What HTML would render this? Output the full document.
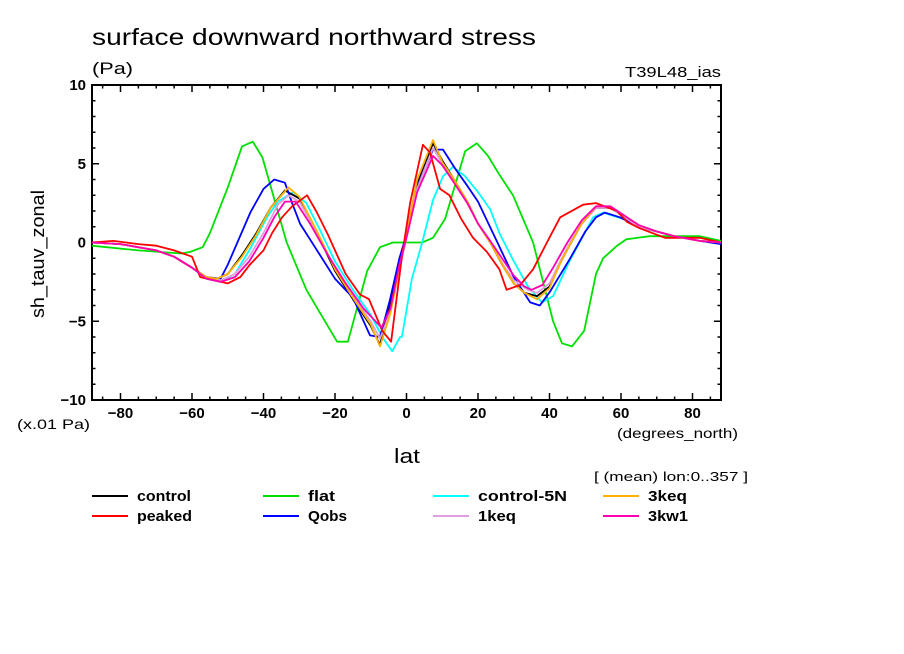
<!DOCTYPE html>
<html><head><meta charset="utf-8"><style>
body{margin:0;background:#fff;}
svg{display:block;font-family:"Liberation Sans",sans-serif;}
</style></head><body>
<svg id="chart" width="904" height="654" viewBox="0 0 904 654">
<rect width="904" height="654" fill="#fff"/>
<text x="92" y="45" font-size="23" textLength="444" lengthAdjust="spacingAndGlyphs">surface downward northward stress</text>
<text x="92" y="74" font-size="17" textLength="41" lengthAdjust="spacingAndGlyphs">(Pa)</text>
<text x="625" y="77" font-size="15" textLength="96" lengthAdjust="spacingAndGlyphs">T39L48_ias</text>
<text x="17" y="429" font-size="14" textLength="73" lengthAdjust="spacingAndGlyphs">(x.01 Pa)</text>
<text x="617" y="438" font-size="14" textLength="121" lengthAdjust="spacingAndGlyphs">(degrees_north)</text>
<text x="394" y="463" font-size="20" textLength="26" lengthAdjust="spacingAndGlyphs">lat</text>
<text transform="translate(44,318) rotate(-90)" font-size="18" textLength="128" lengthAdjust="spacingAndGlyphs">sh_tauv_zonal</text>
<text x="594" y="481" font-size="13" textLength="154" lengthAdjust="spacingAndGlyphs">[ (mean) lon:0..357 ]</text>
<g id="axes"></g>
<g id="series"></g>
<g id="legend"></g>
</svg>
<script>
const xTicks=[-80,-60,-40,-20,0,20,40,60,80];
const yTicks=[-10,-5,0,5,10];
const seriesNames=["control","peaked","flat","Qobs","control-5N","1keq","3keq","3kw1"];
const seriesColors=["#000000","#ff0000","#00e000","#0000ff","#00ffff","#e0a0e0","#ffb000","#ff00b0"];
const latControl=[-88,-80,-75,-70,-65,-60,-56,-53,-50,-46,-42,-38,-34,-30,-25,-20,-15,-10,-7.4,-4.5,-2,0,3,7.4,10,13,17,20,23.4,27,30,33,36.5,40,43,45.8,49,53,57,61,65,70,75,82,88];
const valControl=[0,-0.1,-0.3,-0.5,-0.9,-1.6,-2.2,-2.3,-2.0,-0.8,0.6,2.2,3.3,2.8,0.6,-1.8,-3.6,-5.3,-6.5,-3.8,-1.2,0.6,3.8,6.3,5.2,4.1,2.6,1.2,0,-1.5,-2.6,-3.2,-3.4,-2.8,-1.3,-0.1,1.2,2.2,2.2,1.6,1.0,0.7,0.4,0.1,0];
const latPeaked=[-88,-82,-75,-70,-65,-60,-57.7,-50,-46.5,-43.8,-40,-37.6,-34.8,-32,-27.8,-25.3,-22,-20,-17,-13,-10.5,-6.8,-4.3,-1.3,1,4.6,6.6,9.4,12,15.3,18.6,22.5,26,28,31.8,35.4,40.2,43,49.4,53,58.9,61.7,65.3,72.3,82,88];
const valPeaked=[0,0.1,-0.1,-0.2,-0.5,-0.9,-2.2,-2.6,-2.2,-1.4,-0.5,0.6,1.6,2.3,3.0,2.0,0.5,-0.5,-2.0,-3.3,-3.6,-5.6,-6.3,-0.9,2.5,6.2,5.7,3.4,3.0,1.5,0.3,-0.6,-1.7,-3.0,-2.7,-1.7,0.4,1.6,2.4,2.5,2.0,1.3,0.9,0.3,0.3,0];
const latFlat=[-88,-75,-63,-60.5,-57,-55,-50,-46,-43,-40.3,-33.5,-28,-22.8,-19.4,-16.4,-11,-7.4,-3.8,0,4.4,7.4,10.8,16.4,19.7,22.8,26,29.8,35.4,41,43.5,46.3,49.7,53,55,58.9,61.5,68,82,88];
const valFlat=[-0.2,-0.5,-0.7,-0.6,-0.3,0.6,3.5,6.1,6.4,5.4,0,-3.0,-5.0,-6.3,-6.3,-1.8,-0.3,0,0,0,0.3,1.5,5.8,6.3,5.5,4.3,3.0,0,-5.0,-6.4,-6.6,-5.6,-2.0,-1.0,-0.2,0.2,0.4,0.4,0.1];
const latQobs=[-88,-80,-75,-70,-65,-60,-56,-52,-50,-43.7,-40,-37,-34,-32,-29.8,-25.6,-20,-15,-10.2,-7.4,-4.6,-2,0,3,7.4,10.2,13.6,17,20,25,30,34.6,37.3,40.2,45.8,50,53,55.5,59.7,65,70,75,82,88];
const valQobs=[0,-0.1,-0.3,-0.5,-0.9,-1.6,-2.2,-2.3,-1.4,1.9,3.4,4.0,3.8,2.5,1.2,-0.3,-2.3,-3.5,-5.9,-6.0,-3.6,-1.0,0.5,3.5,5.9,5.9,4.7,3.6,2.6,0.2,-2.2,-3.8,-4.0,-3.1,-1.0,0.7,1.6,1.9,1.6,1.0,0.7,0.4,0.1,-0.1];
const latCtl5N=[-88,-80,-75,-70,-65,-60,-56,-52,-48,-44,-39,-36,-31.7,-28,-24,-20,-15,-10,-6.8,-4,-1.8,-1.3,1.5,4.4,7.4,10.2,13,16.4,20,23.4,26,29.8,34,37.9,41,45.8,52.2,55,60.6,65,70,75,82,88];
const valCtl5N=[0,-0.1,-0.3,-0.5,-0.9,-1.6,-2.3,-2.5,-2.0,-0.5,1.6,2.6,3.2,2.5,0.7,-1.2,-3.0,-4.6,-6.0,-6.9,-6.0,-6.0,-2.3,0,2.7,4.2,4.8,4.2,3.2,2.1,0.6,-1.1,-2.8,-3.8,-3.4,-1.1,1.6,1.9,1.5,1.0,0.7,0.4,0.1,0];
const lat1keq=[-88,-80,-75,-70,-65,-60,-56,-52,-48,-44,-40,-36,-33,-30,-25,-20,-15,-10,-7.4,-4.5,-2,0,3,7.4,10,13,17,20,23.4,27,30,34,36.5,40,43,45.8,49,53,57,61,65,70,75,82,88];
const val1keq=[0,-0.1,-0.3,-0.5,-0.9,-1.6,-2.2,-2.4,-2.0,-0.9,0.6,2.4,3.0,2.6,0.6,-1.6,-3.4,-5.0,-6.1,-4.4,-1.8,0.3,3.4,6.0,5.0,4.0,2.5,1.2,0,-1.4,-2.4,-3.0,-3.2,-2.6,-1.2,0,1.2,2.2,2.2,1.6,1.0,0.7,0.4,0.1,0];
const lat3keq=[-88,-80,-75,-70,-65,-60,-56,-53,-50,-46,-42,-38,-33,-30,-25,-20,-15,-10,-7.4,-4.5,-2,0,3,7.4,10,13,17,20,23.4,27,30,33,36.5,40,43,45.8,49,53,57,61,65,70,75,82,88];
const val3keq=[0,-0.1,-0.3,-0.5,-0.9,-1.6,-2.2,-2.3,-2.0,-0.9,0.5,2.2,3.5,2.9,0.7,-1.7,-3.5,-5.2,-6.6,-4.5,-1.6,0.6,4.0,6.5,5.1,4.1,2.6,1.2,0,-1.5,-2.6,-3.2,-3.6,-2.9,-1.3,-0.1,1.2,2.3,2.3,1.7,1.1,0.7,0.4,0.1,0];
const lat3kw1=[-88,-80,-75,-70,-65,-60,-56,-52,-48,-44,-40,-37,-34,-31,-27,-22,-17,-12,-7,-4.5,-2,0,3,7.4,10,13,17,20,23.4,27,30,33,35,38,41,45,49,53,57,61,65,70,75,82,88];
const val3kw1=[0,-0.1,-0.3,-0.5,-0.9,-1.6,-2.3,-2.5,-2.2,-1.2,0.3,1.6,2.6,2.6,1.2,-0.8,-2.6,-4.2,-5.4,-4.2,-1.4,0.3,3.2,5.5,4.9,3.9,2.5,1.2,0.1,-1.1,-2.1,-2.8,-3.0,-2.7,-1.6,0,1.4,2.3,2.3,1.7,1.1,0.7,0.4,0.1,0];

const NS="http://www.w3.org/2000/svg";
const X0=92,X1=721,Y0=400,Y1=85;
const legendTextWidths=[54,55,27,39,89,38,39,40];
function xs(v){return 406.5+v*3.575;}
function ys(v){return 242.5-v*(Y0-Y1)/20;}
function mk(tag,attrs,parent){const e=document.createElementNS(NS,tag);for(const k in attrs)e.setAttribute(k,attrs[k]);parent.appendChild(e);return e;}
const axes=document.getElementById('axes');
const frame=mk('rect',{x:X0,y:Y1,width:X1-X0,height:Y0-Y1,fill:'none',stroke:'#000','stroke-width':2},axes);


for(let v=-85;v<=85;v+=5){
  const major=(v%20===0);const L=major?7:3.5;
  const t1=mk('line',{x1:xs(v),x2:xs(v),y1:Y0,y2:Y0-L,stroke:'#000','stroke-width':1.5},axes);
  
  
  const t2=mk('line',{x1:xs(v),x2:xs(v),y1:Y1,y2:Y1+L,stroke:'#000','stroke-width':1.5},axes);
  
  
}
for(let v=-9;v<=9;v++){
  const major=(v%5===0);const L=major?7:3.5;
  const t1=mk('line',{x1:X0,x2:X0+L,y1:ys(v),y2:ys(v),stroke:'#000','stroke-width':1.5},axes);
  
  
  const t2=mk('line',{x1:X1,x2:X1-L,y1:ys(v),y2:ys(v),stroke:'#000','stroke-width':1.5},axes);
  
  
}
xTicks.forEach(v=>{
  const t=mk('text',{x:xs(v),y:418,'font-size':15,'text-anchor':'middle','font-weight':'bold'},axes);
  t.textContent=(v<0?'\u2212'+(-v):String(v));
  
  
});
yTicks.forEach(v=>{
  const t=mk('text',{x:86,y:ys(v)+5,'font-size':15,'text-anchor':'end','font-weight':'bold'},axes);
  t.textContent=(v<0?'\u2212'+(-v):String(v));
  
  
});
const lats=[latControl,latPeaked,latFlat,latQobs,latCtl5N,lat1keq,lat3keq,lat3kw1];
const vals=[valControl,valPeaked,valFlat,valQobs,valCtl5N,val1keq,val3keq,val3kw1];
const order=[2,4,0,3,5,6,1,7];
const sg=document.getElementById('series');
order.forEach(i=>{
  const pts=lats[i].map((la,j)=>xs(la).toFixed(1)+','+ys(vals[i][j]).toFixed(1)).join(' ');
  const p=mk('polyline',{points:pts,fill:'none',stroke:seriesColors[i],'stroke-width':1.8,'stroke-linejoin':'round'},sg);
  
  
});
const lg=document.getElementById('legend');
const colX=[92,263,433,603];
seriesNames.forEach((n,i)=>{
  const col=Math.floor(i/2),row=i%2;
  const y=496+row*20,x=colX[col];
  const g=mk('g',{},lg);
  
  
  mk('line',{x1:x,x2:x+36,y1:y,y2:y,stroke:seriesColors[i],'stroke-width':2},g);
  const t=mk('text',{x:x+45,y:y+5,'font-size':15,'font-weight':'bold',textLength:legendTextWidths[i],lengthAdjust:'spacingAndGlyphs'},g);
  t.textContent=n;
});
</script>
</body></html>
